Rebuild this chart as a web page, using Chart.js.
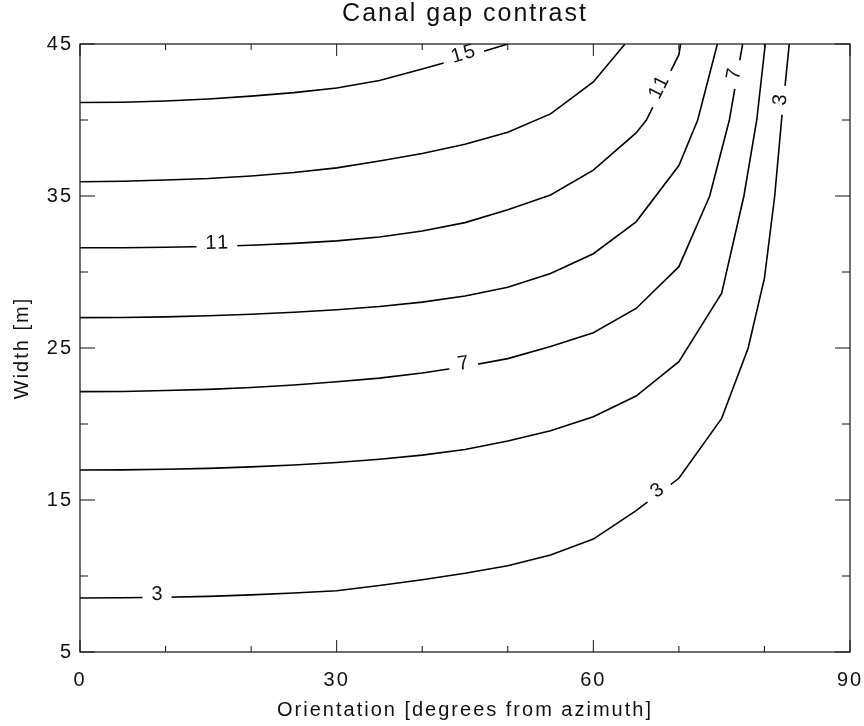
<!DOCTYPE html>
<html>
<head>
<meta charset="utf-8">
<title>Canal gap contrast</title>
<script src="https://cdn.jsdelivr.net/npm/chart.js@4.4.1/dist/chart.umd.min.js"></script>
<style>
  html, body { margin: 0; padding: 0; background: #fff; }
  #wrap { width: 864px; height: 726px; }
</style>
</head>
<body>
<div id="wrap"><canvas id="chart"></canvas></div>
<script>
// contour lines: [orientation, width]
const levels = [3, 5, 7, 9, 11, 13, 15];

const contour3 = [[0,8.55],[5,8.57],[10,8.6],[15,8.66],[20,8.76],[25,8.88],[30,9.03],[35,9.38],[40,9.75],[45,10.18],[50,10.68],[55,11.38],[60,12.43],[65,14.3],[70,16.43],[75,20.37],[78.1,25],[80,29.6],[81.2,35],[82,40],[82.4,42.2],[82.9,45]];
const contour5 = [[0,16.97],[5,16.98],[10,17.02],[15,17.08],[20,17.18],[25,17.3],[30,17.47],[35,17.68],[40,17.95],[45,18.32],[50,18.88],[55,19.56],[60,20.48],[65,21.84],[70,24.1],[75,28.6],[77.6,35],[79.1,40],[80.1,45]];
const contour7 = [[0,22.13],[5,22.14],[10,22.2],[15,22.28],[20,22.4],[25,22.57],[30,22.78],[35,23.02],[40,23.35],[45,23.78],[50,24.3],[55,25.1],[60,26.0],[65,27.6],[70,30.35],[73.6,35],[75.9,40],[77.45,45]];
const contour9 = [[0,27.0],[5,27.01],[10,27.05],[15,27.12],[20,27.22],[25,27.35],[30,27.52],[35,27.73],[40,28.02],[45,28.42],[50,29.0],[55,29.9],[60,31.2],[65,33.3],[70,37.0],[72.2,40],[74.5,45]];
const contour11 = [[0,31.6],[5,31.6],[10,31.63],[15,31.68],[20,31.76],[25,31.88],[30,32.05],[35,32.3],[40,32.7],[45,33.25],[50,34.1],[55,35.07],[60,36.7],[65,39.15],[66.2,40],[70,44.3],[70.2,45]];
const contour13 = [[0,35.94],[5,35.97],[10,36.05],[15,36.15],[20,36.32],[25,36.55],[30,36.85],[35,37.3],[40,37.8],[45,38.4],[50,39.2],[55,40.4],[60,42.5],[63.7,45]];
const contour15 = [[0,41.15],[5,41.17],[10,41.25],[15,41.38],[20,41.57],[25,41.8],[30,42.1],[35,42.6],[40,43.35],[45,44.15],[50,45]];

const contours = [contour3, contour5, contour7, contour9, contour11, contour13, contour15];

// where the level numbers sit on the lines
const labelLevel = [15, 11, 7, 3, 3, 11, 7, 3];
const labelX = [44.8, 16.0, 44.8, 9.0, 67.4, 67.8, 76.7, 82.25];
const labelY = [44.28, 31.66, 23.95, 8.6, 15.66, 42.1, 43.0, 41.3];

const xTicks = [0, 30, 60, 90];
const xMinor = [10, 20, 40, 50, 70, 80];
const yTicks = [5, 15, 25, 35, 45];
const yMinor = [10, 20, 30, 40];

const INK = '#111';
const FAMILY = '"Liberation Sans", Arial, sans-serif';
const FONT = { family: FAMILY, size: 20, weight: 'normal' };

// wide spacing like the plotter font of the original
const spacing = {
    id: 'spacing',
    beforeUpdate(chart) { chart.ctx.letterSpacing = '2px'; },
    beforeDraw(chart) { chart.ctx.letterSpacing = '2px'; }
};

// box round the plot and ticks pointing inwards on all four sides
const frameTicks = {
    id: 'frameTicks',
    afterDraw(chart) {
        const { ctx, chartArea: a, scales: { x, y } } = chart;
        ctx.save();
        ctx.strokeStyle = INK;
        ctx.lineWidth = 1.2;
        ctx.strokeRect(a.left, a.top, a.right - a.left, a.bottom - a.top);
        ctx.beginPath();
        const tx = (v, len) => {
            const p = x.getPixelForValue(v);
            ctx.moveTo(p, a.bottom); ctx.lineTo(p, a.bottom - len);
            ctx.moveTo(p, a.top); ctx.lineTo(p, a.top + len);
        };
        const ty = (v, len) => {
            const p = y.getPixelForValue(v);
            ctx.moveTo(a.left, p); ctx.lineTo(a.left + len, p);
            ctx.moveTo(a.right, p); ctx.lineTo(a.right - len, p);
        };
        xTicks.forEach(v => tx(v, 12));
        xMinor.forEach(v => tx(v, 6));
        yTicks.forEach(v => ty(v, 15));
        yMinor.forEach(v => ty(v, 8));
        ctx.lineWidth = 1;
        ctx.stroke();
        ctx.restore();
    }
};

// level numbers written along the lines, with a gap cut in the line
const contourLabels = {
    id: 'contourLabels',
    afterDatasetsDraw(chart) {
        const { ctx, scales: { x, y } } = chart;
        ctx.save();
        ctx.font = `${FONT.size}px ${FAMILY}`;
        ctx.textAlign = 'center';
        ctx.textBaseline = 'middle';
        labelLevel.forEach((lvl, i) => {
            const pts = contours[levels.indexOf(lvl)].map(p => [x.getPixelForValue(p[0]), y.getPixelForValue(p[1])]);
            const px = x.getPixelForValue(labelX[i]);
            const py = y.getPixelForValue(labelY[i]);
            let best = null;
            for (let k = 0; k < pts.length - 1; k++) {
                const [ax, ay] = pts[k], [bx, by] = pts[k + 1];
                const dx = bx - ax, dy = by - ay;
                let t = ((px - ax) * dx + (py - ay) * dy) / (dx * dx + dy * dy);
                t = Math.max(0, Math.min(1, t));
                const qx = ax + t * dx, qy = ay + t * dy;
                const d = (qx - px) ** 2 + (qy - py) ** 2;
                if (!best || d < best.d) best = { d, qx, qy, ang: Math.atan2(dy, dx) };
            }
            let ang = best.ang;
            if (ang > Math.PI / 2) ang -= Math.PI;
            if (ang < -Math.PI / 2) ang += Math.PI;
            const txt = String(lvl);
            const w = ctx.measureText(txt).width;
            ctx.save();
            ctx.translate(best.qx, best.qy);
            ctx.rotate(ang);
            ctx.fillStyle = '#fff';
            ctx.fillRect(-w / 2 - 8, -5, w + 16, 10);
            ctx.fillStyle = INK;
            ctx.fillText(txt, 1, -3);
            ctx.restore();
        });
        ctx.restore();
    }
};

new Chart(document.getElementById('chart'), {
    type: 'scatter',
    data: {
        datasets: contours.map((c, i) => ({
            label: String(levels[i]),
            data: c.map(p => ({ x: p[0], y: p[1] })),
            showLine: true,
            borderColor: '#000',
            borderWidth: 1.6,
            pointRadius: 0,
            tension: 0,
            fill: false
        }))
    },
    options: {
        responsive: true,
        maintainAspectRatio: false,
        animation: false,
        layout: { padding: { left: 0, right: 14, top: 0, bottom: 0 } },
        plugins: {
            legend: { display: false },
            tooltip: { enabled: false },
            title: {
                display: true,
                text: 'Canal gap contrast',
                fullSize: false,
                color: INK,
                font: { family: FAMILY, size: 25, weight: 'normal', lineHeight: 1 },
                padding: { top: 2, bottom: 17 }
            }
        },
        scales: {
            x: {
                type: 'linear',
                min: 0,
                max: 90,
                afterBuildTicks: s => { s.ticks = xTicks.map(v => ({ value: v })); },
                afterFit: s => { s.height = 74; s.paddingLeft = 0; s.paddingRight = 0; },
                grid: { display: false, drawTicks: false },
                border: { display: false },
                ticks: { color: INK, font: FONT, padding: 16, maxRotation: 0 },
                title: {
                    display: true,
                    text: 'Orientation [degrees from azimuth]',
                    color: INK,
                    font: FONT,
                    padding: { top: 0, bottom: 4 }
                }
            },
            y: {
                type: 'linear',
                min: 5,
                max: 45,
                afterBuildTicks: s => { s.ticks = yTicks.map(v => ({ value: v })); },
                afterFit: s => { s.width = 80; s.paddingTop = 0; s.paddingBottom = 0; },
                grid: { display: false, drawTicks: false },
                border: { display: false },
                ticks: { color: INK, font: FONT, padding: 7 },
                title: {
                    display: true,
                    text: 'Width [m]',
                    color: INK,
                    font: FONT,
                    padding: { top: 10, bottom: 0 }
                }
            }
        }
    },
    plugins: [spacing, frameTicks, contourLabels]
});
</script>
</body>
</html>
